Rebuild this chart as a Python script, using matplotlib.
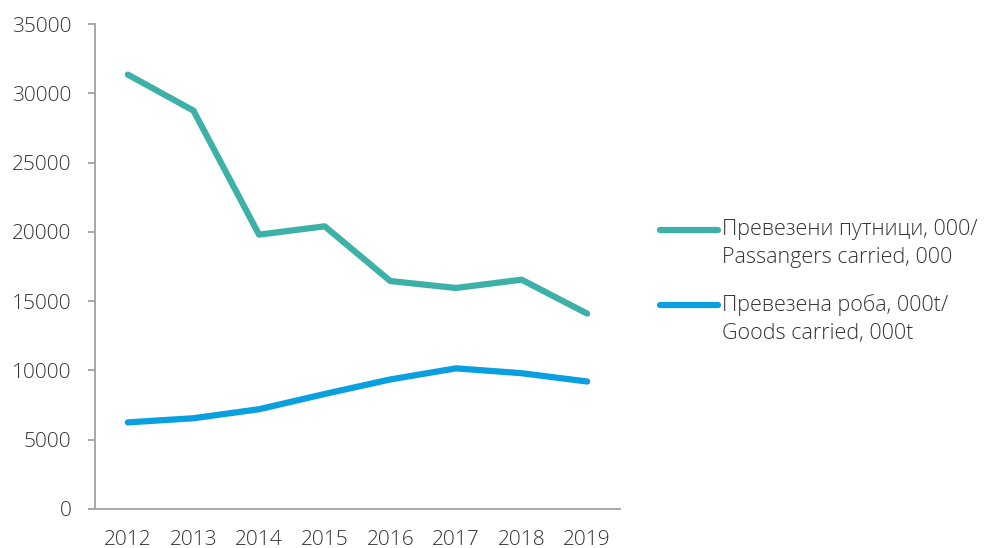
import matplotlib.pyplot as plt
from matplotlib.lines import Line2D

years = ['2012', '2013', '2014', '2015', '2016', '2017', '2018', '2019']
passengers = [31350, 28750, 19800, 20400, 16450, 15950, 16550, 14100]
goods = [6250, 6550, 7200, 8300, 9350, 10150, 9800, 9200]
series_labels = [['Превезени путници, 000/', 'Passangers carried, 000'],
                 ['Превезена роба, 000t/', 'Goods carried, 000t']]
colors = ['#3db1a8', '#0aa0df']

plt.rcParams['font.family'] = ['Open Sans', 'DejaVu Sans']
plt.rcParams['font.weight'] = 'light'

W, H = 992, 548
fig = plt.figure(figsize=(W / 100, H / 100), dpi=100)
ax = fig.add_axes([95/W, 1 - 509/H, (620 - 95)/W, (509 - 24)/H])

x = range(len(years))
for vals, c in zip([passengers, goods], colors):
    ax.plot(x, vals, color=c, linewidth=4.5, solid_capstyle='round',
            solid_joinstyle='round')

ax.set_xlim(-0.5, 7.5)
ax.set_ylim(0, 35000)
ax.set_yticks(range(0, 35001, 5000))
ax.set_xticks(list(x))
ax.set_xticklabels(years)

for s in ['top', 'right']:
    ax.spines[s].set_visible(False)
for s in ['left', 'bottom']:
    ax.spines[s].set_color('#a0a0a0')
    ax.spines[s].set_linewidth(1.3)
ax.tick_params(axis='y', color='#a0a0a0', length=5, width=1.3, labelsize=15,
               labelcolor='#333333', pad=12)
ax.tick_params(axis='x', length=0, labelsize=15, labelcolor='#333333', pad=15)

# legenda desenhada à mão (linha alinhada com a primeira linha do texto)
for k, (lines, c) in enumerate(zip(series_labels, colors)):
    y0 = 230 + k * 75
    fig.add_artist(Line2D([660/W, 718/W], [1 - y0/H, 1 - y0/H], color=c,
                          linewidth=4.5, solid_capstyle='round'))
    for j, txt in enumerate(lines):
        fig.text(722/W, 1 - (y0 + j * 28)/H, txt, fontsize=15.5,
                 color='#333333', va='center', ha='left')

fig.savefig('out.png', dpi=100)
